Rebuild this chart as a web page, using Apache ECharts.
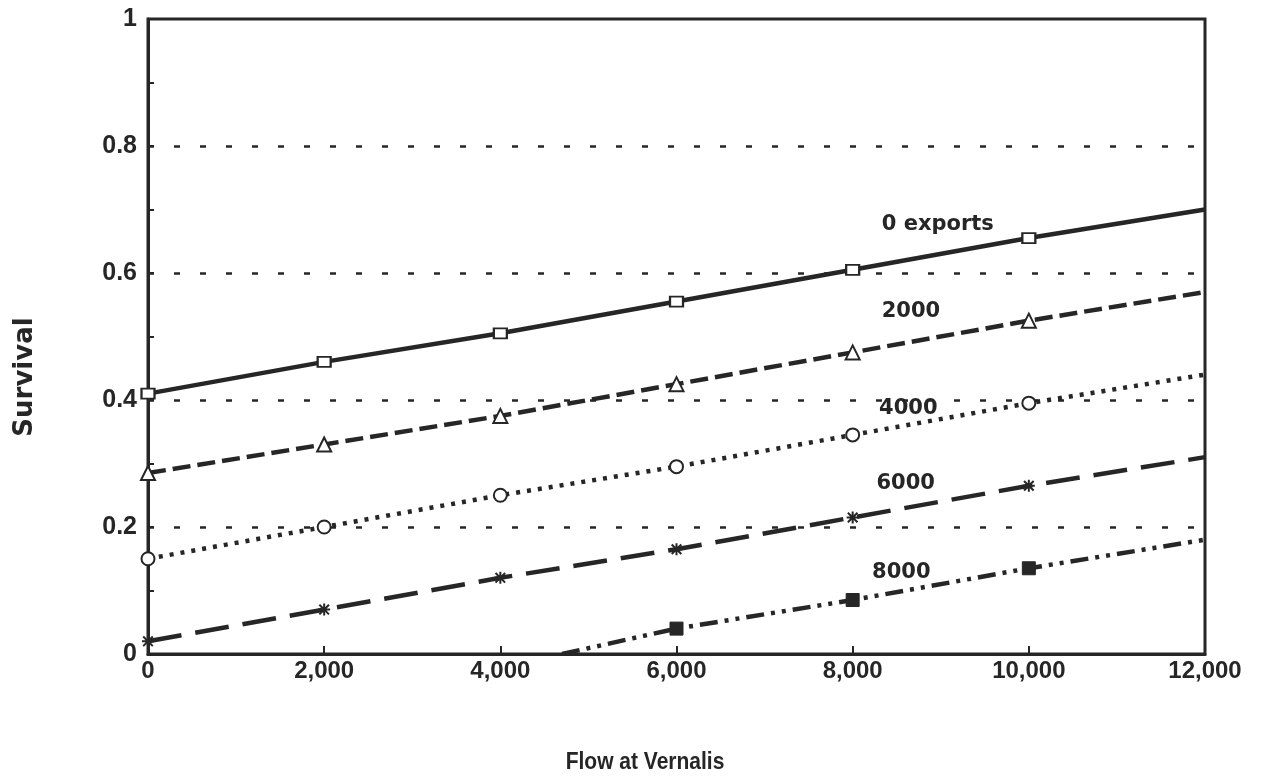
<!DOCTYPE html>
<html><head><meta charset="utf-8">
<script src="https://cdn.jsdelivr.net/npm/echarts@6/dist/echarts.min.js"></script>
<style>html,body{margin:0;padding:0;background:#fff}#c{width:1263px;height:783px}</style>
</head><body><div id="c"></div>
<script>
var flowTicks = [0, 2000, 4000, 6000, 8000, 10000, 12000];
var exports0 = [0.41, 0.46, 0.505, 0.555, 0.605, 0.655, 0.70];
var exports2000 = [0.285, 0.33, 0.375, 0.425, 0.475, 0.525, 0.57];
var exports4000 = [0.15, 0.20, 0.25, 0.295, 0.345, 0.395, 0.44];
var exports6000 = [0.02, 0.07, 0.12, 0.165, 0.215, 0.265, 0.31];
var flow8000 = [4700, 6000, 8000, 10000, 12000];
var exports8000 = [0, 0.04, 0.085, 0.135, 0.18];
var lineLabels = ['0 exports', '2000', '4000', '6000', '8000'];
var labelFlow = [8330, 8330, 8300, 8270, 8220];
var labelSurv = [0.676, 0.539, 0.387, 0.269, 0.128];

var ink = '#262626';
var font = '"Liberation Sans", Arial, sans-serif';
var wide = '"DejaVu Sans", sans-serif';
// points at the line ends carry no marker
function pairs(xs, ys, noMarkFirst){
  return xs.map(function(x,i){
    var d = {value: [x, ys[i]]};
    if (i === xs.length - 1 || (noMarkFirst && i === 0)) d.symbol = 'none';
    return d;
  });
}
function lbl(i){
  return {
    symbol: 'circle', symbolSize: 0, silent: true, animation: false,
    label: {show: true, position: 'right', distance: 0, color: ink, fontFamily: wide, fontWeight: 'bold', fontSize: 21},
    data: [{coord: [labelFlow[i], labelSurv[i]], value: lineLabels[i], label:{formatter: lineLabels[i]}}]
  };
}
var chart = echarts.init(document.getElementById('c'));
chart.setOption({
  animation: false,
  backgroundColor: '#fff',
  grid: {left: 148, right: 58, top: 19, bottom: 129, show: true, borderColor: ink, borderWidth: 3, backgroundColor: 'transparent'},
  graphic: [
    {type: 'text', x: 645, y: 762, scaleY: 1.15,
     style: {text: 'Flow at Vernalis', fill: ink, textAlign: 'center', textVerticalAlign: 'middle', font: 'bold 21px "Liberation Sans", Arial, sans-serif'}},
    {type: 'text', x: 25, y: 377, rotation: Math.PI / 2,
     style: {text: 'Survival', fill: ink, textAlign: 'center', textVerticalAlign: 'middle', font: 'bold 26px "DejaVu Sans", sans-serif'}}
  ],
  xAxis: {
    type: 'value', min: 0, max: 12000, interval: 2000,
    axisLine: {lineStyle: {color: ink, width: 3}},
    axisTick: {inside: true, length: 8, lineStyle: {color: ink, width: 2}},
    splitLine: {show: false},
    axisLabel: {color: ink, fontFamily: font, fontWeight: 'bold', fontSize: 24, margin: 5,
      formatter: function(v){ return v.toLocaleString('en-US'); }}
  },
  yAxis: {
    type: 'value', min: 0, max: 1, interval: 0.2,
    axisLine: {lineStyle: {color: ink, width: 3}},
    axisTick: {inside: true, length: 6, lineStyle: {color: ink, width: 2}},
    minorTick: {show: true, splitNumber: 2, length: 6, lineStyle: {color: ink, width: 2}},
    splitLine: {show: true, showMinLine: false, showMaxLine: false, lineStyle: {color: ink, width: 2.5, type: [6, 20]}},
    axisLabel: {color: ink, fontFamily: font, fontWeight: 'bold', fontSize: 25, margin: 11,
      formatter: function(v){ return String(+v.toFixed(1)); }}
  },
  series: [
    {type: 'line', data: pairs(flowTicks, exports0), symbol: 'rect', symbolSize: [13, 10],
     itemStyle: {color: '#fff', borderColor: ink, borderWidth: 2},
     lineStyle: {color: ink, width: 4.5, type: 'solid'}, markPoint: lbl(0)},
    {type: 'line', data: pairs(flowTicks, exports2000), symbol: 'triangle', symbolSize: 14,
     itemStyle: {color: '#fff', borderColor: ink, borderWidth: 2},
     lineStyle: {color: ink, width: 4.5, type: [18, 7]}, markPoint: lbl(1)},
    {type: 'line', data: pairs(flowTicks, exports4000), symbol: 'circle', symbolSize: 13,
     itemStyle: {color: '#fff', borderColor: ink, borderWidth: 2},
     lineStyle: {color: ink, width: 4.5, type: [4, 7]}, markPoint: lbl(2)},
    {type: 'line', data: pairs(flowTicks, exports6000),
     symbol: 'path://M0,5 L10,5 M5,0 L5,10 M1,1 L9,9 M9,1 L1,9', symbolSize: 12,
     itemStyle: {color: ink, borderColor: ink, borderWidth: 2},
     lineStyle: {color: ink, width: 4.5, type: [34, 14]}, markPoint: lbl(3)},
    {type: 'line', data: pairs(flow8000, exports8000, true), symbol: 'rect', symbolSize: 13,
     itemStyle: {color: ink, borderColor: ink, borderWidth: 1},
     lineStyle: {color: ink, width: 4.5, type: [18, 7, 4, 7, 4, 7]}, markPoint: lbl(4)}
  ]
});
</script></body></html>
